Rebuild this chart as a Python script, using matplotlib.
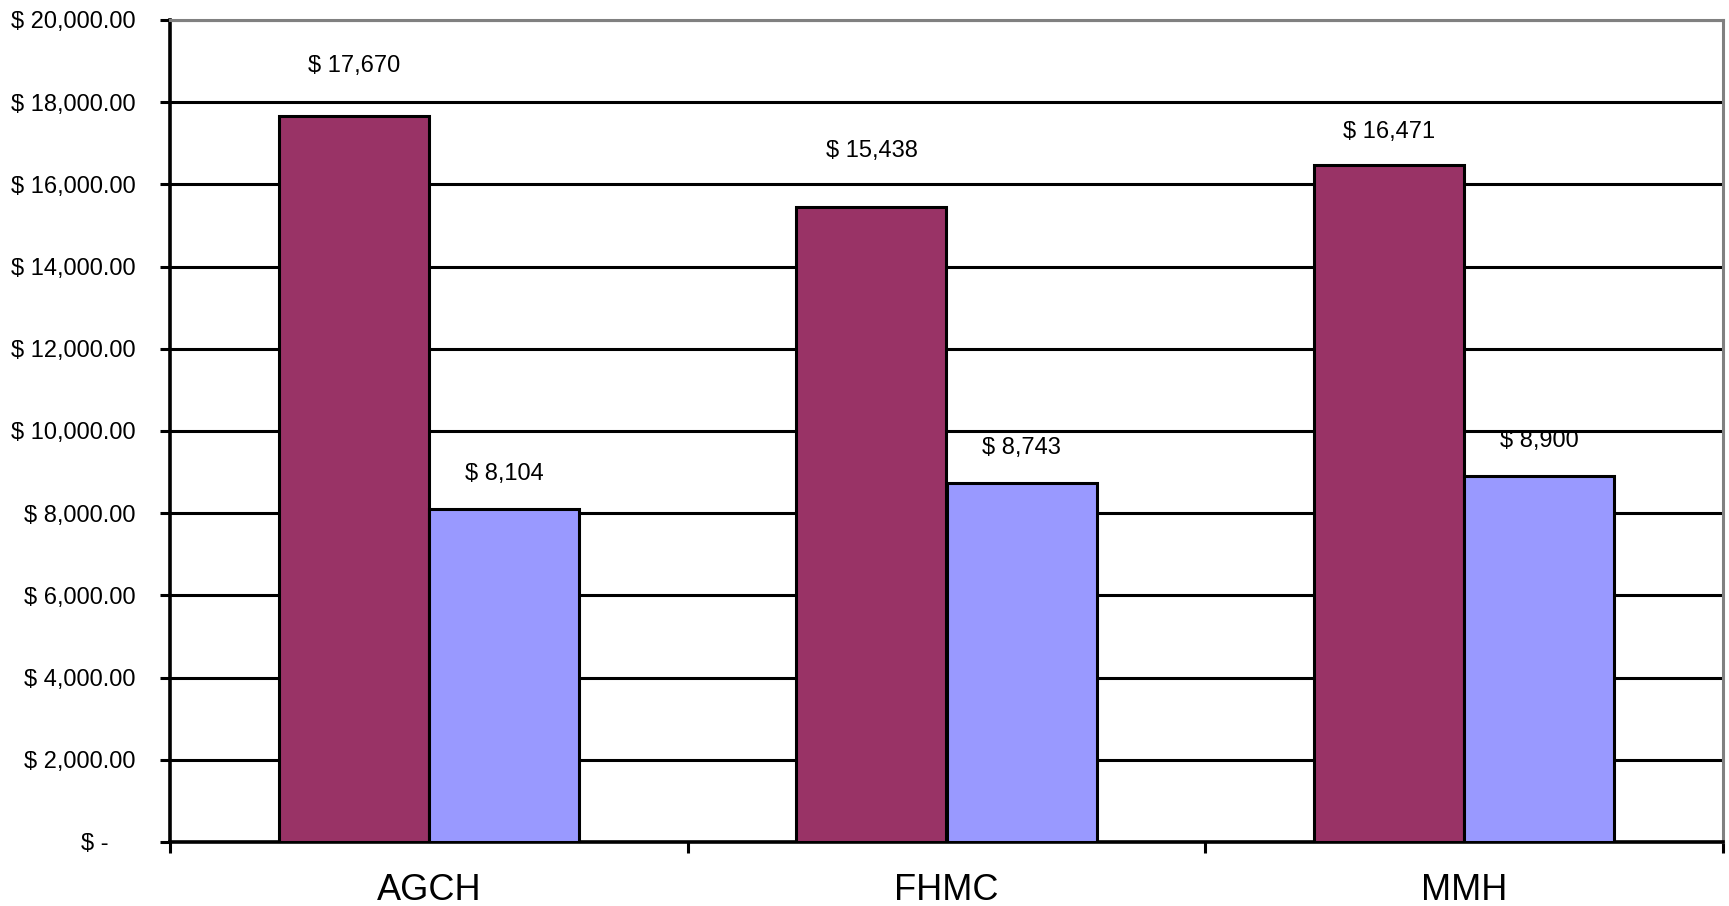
import matplotlib.pyplot as plt
from matplotlib.ticker import FixedLocator, FuncFormatter

plt.rcParams['font.family'] = ['Liberation Sans', 'DejaVu Sans']

# data
hospitals = ['AGCH', 'FHMC', 'MMH']
series_a = [17670, 15438, 16471]
series_b = [8104, 8743, 8900]
# label lift above bar top, in points (labels were placed by hand in the original)
lift_a = [36, 41, 24]
lift_b = [25, 25, 25]


def money(v, pos=None):
    if v == 0:
        return '$ -' + ' ' * 4
    return f'$ {v:,.2f}'


fig = plt.figure(figsize=(17.29, 9.06), dpi=100)
ax = fig.add_axes([170 / 1729, 64 / 906, 1553 / 1729, 822 / 906])

w = 0.29
xa = [i - w / 2 for i in range(len(hospitals))]
xb = [i + w / 2 for i in range(len(hospitals))]
ax.bar(xa, series_a, w, color='#993366', edgecolor='black', linewidth=2.2, zorder=3)
ax.bar(xb, series_b, w, color='#9999FF', edgecolor='black', linewidth=2.2, zorder=3)

for x, v, d in zip(xa, series_a, lift_a):
    ax.annotate(f'$ {v:,}', (x, v), xytext=(0, d), textcoords='offset points',
                ha='center', va='center', fontsize=17)
for x, v, d in zip(xb, series_b, lift_b):
    ax.annotate(f'$ {v:,}', (x, v), xytext=(0, d), textcoords='offset points',
                ha='center', va='center', fontsize=17)

ax.set_xlim(-0.5, 2.5)
ax.set_ylim(0, 20000)
ax.set_yticks(range(0, 20001, 2000))
ax.yaxis.set_major_formatter(FuncFormatter(money))
ax.tick_params(axis='y', direction='out', length=7, width=2.2, labelsize=17, pad=18)

# category boundaries get tick marks, names sit between them
ax.xaxis.set_major_locator(FixedLocator([-0.5, 0.5, 1.5, 2.5]))
ax.xaxis.set_minor_locator(FixedLocator(range(len(hospitals))))
ax.xaxis.set_major_formatter(FuncFormatter(lambda v, p: ''))
ax.set_xticklabels(hospitals, minor=True)
ax.tick_params(axis='x', which='major', direction='out', length=8, width=2.2)
ax.tick_params(axis='x', which='minor', length=0, labelsize=26, pad=22)

ax.grid(axis='y', color='black', linewidth=2.2, zorder=0)
ax.set_axisbelow(True)
for s in ['left', 'bottom']:
    ax.spines[s].set_linewidth(2.6)
    ax.spines[s].set_color('black')
for s in ['top', 'right']:
    ax.spines[s].set_linewidth(2.2)
    ax.spines[s].set_color('#808080')

fig.savefig('out.png', dpi=100)
